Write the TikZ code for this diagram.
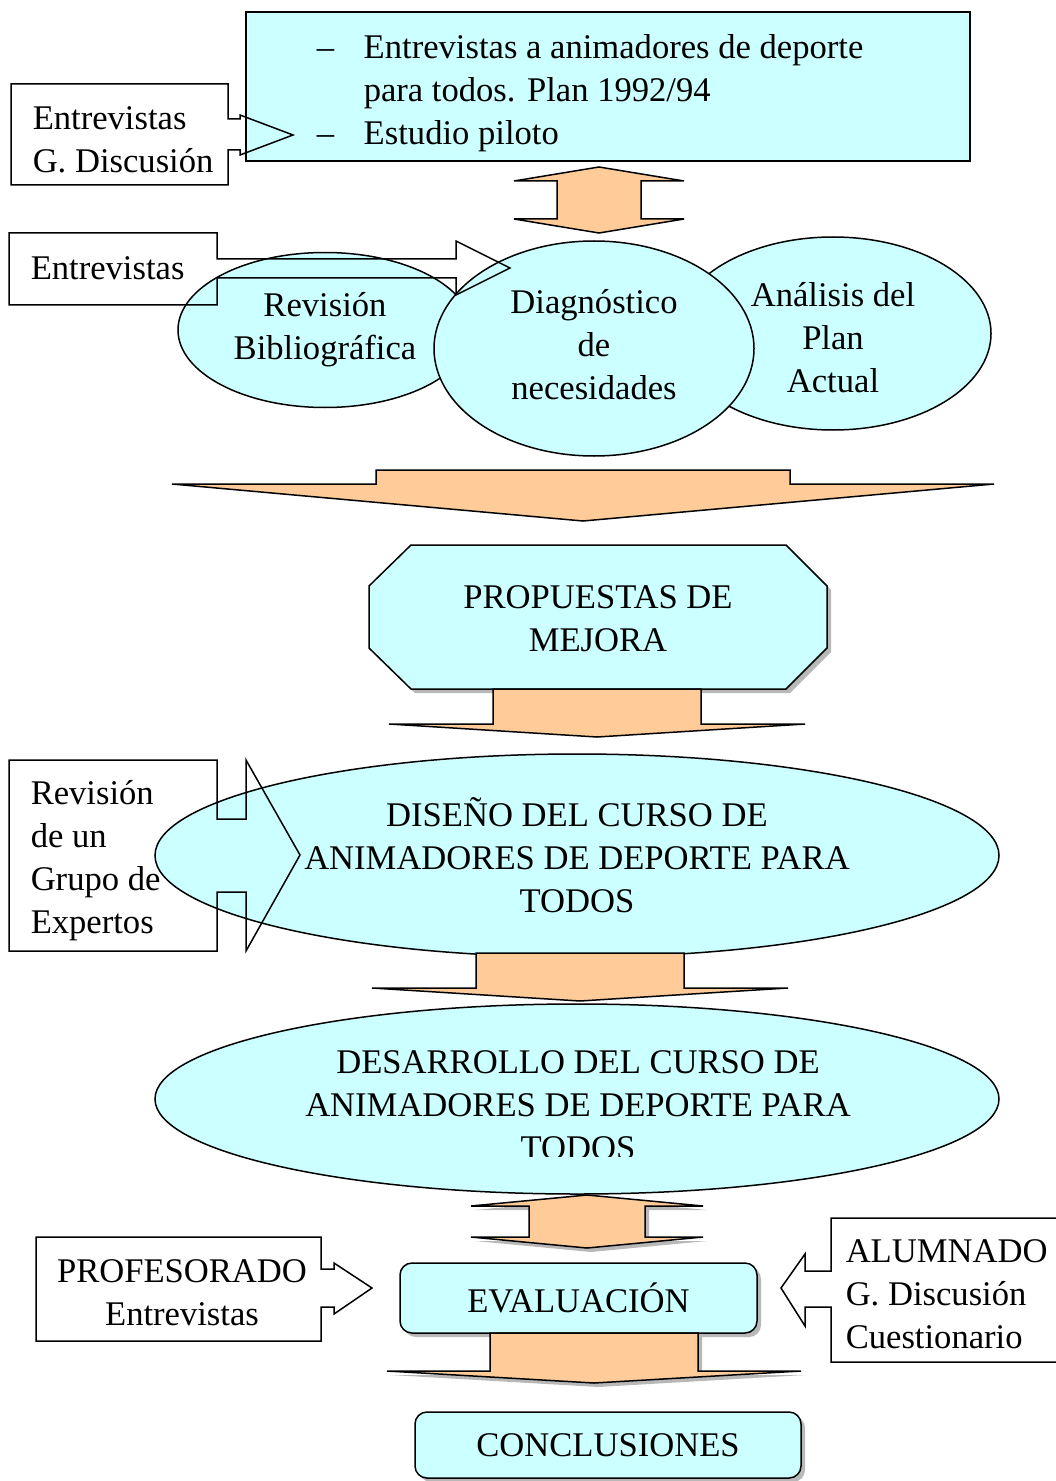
\documentclass[tikz,border=0pt]{standalone}
\usepackage{fontspec}
\setmainfont{Liberation Serif}
\usetikzlibrary{shapes.geometric, shadows}

\definecolor{celeste}{HTML}{CCFFFF}
\definecolor{melocoton}{HTML}{FFCC99}

% block arrow pointing down: [options] x centre, shaft top, head base, tip, half shaft, half head
\newcommand{\flechabaja}[7][]{%
  \draw[flecha, #1] (#2-#6,#3) -- (#2+#6,#3) -- (#2+#6,#4) -- (#2+#7,#4) -- (#2,#5)
    -- (#2-#7,#4) -- (#2-#6,#4) -- cycle;}
% block arrow up and down: [options] x centre, top tip, top base, bottom base, bottom tip, half shaft, half head
\newcommand{\flechadoble}[8][]{%
  \draw[flecha, #1] (#2,#3) -- (#2+#8,#4) -- (#2+#7,#4) -- (#2+#7,#5) -- (#2+#8,#5) -- (#2,#6)
    -- (#2-#8,#5) -- (#2-#7,#5) -- (#2-#7,#4) -- (#2-#8,#4) -- cycle;}

\begin{document}
\begin{tikzpicture}[x=0.5pt, y=-0.5pt, line width=0.75pt, line join=miter,
    texto/.style={font=\fontsize{17.3}{21.5}\selectfont, align=center, inner sep=0pt},
    caja/.style={draw, fill=celeste},
    elipse/.style={draw, fill=celeste, ellipse, inner sep=0pt},
    flecha/.style={draw, fill=melocoton},
    sombra/.style={drop shadow={shadow xshift=2pt, shadow yshift=-2pt, fill=gray!70, opacity=.8}}]
    \useasboundingbox (0,0) rectangle (1055,1481);

    % First sources
    \node[caja, minimum width=362pt, minimum height=74.5pt] (fuentes) at (608,86.5) {};
    \node[texto, anchor=west] (lista) at (316,92.5) {\begin{tabular}{@{}p{23.5pt}@{}l@{}}
        -- & Entrevistas a animadores de deporte\\
           & para todos. Plan 1992/94\\
        -- & Estudio piloto
      \end{tabular}};

    % Three ellipses of the diagnosis
    \node[elipse, texto, minimum width=147pt, minimum height=77.5pt] (revision) at (325,330) {Revisi\'on\\Bibliogr\'afica};
    \node[elipse, minimum width=158pt, minimum height=96.5pt] (analisis) at (833,333.5) {};
    \node[texto, yshift=-2pt] at (analisis) {An\'alisis del\\Plan\\Actual};
    \node[elipse, minimum width=160pt, minimum height=107.5pt] (diagnostico) at (594,348.5) {};
    \node[texto, yshift=2pt] at (diagnostico) {Diagn\'ostico\\de\\necesidades};

    % Callouts on the left
    \draw (228,119) -- (228,84) -- (11,84) -- (11,185) -- (228,185) -- (228,150) -- (240,150)
      -- (240,155) -- (293,135) -- (240,115) -- (240,119) -- cycle;
    \node[texto, anchor=west, align=left] (grupos) at (32,140) {Entrevistas\\G. Discusi\'on};
    \draw (217,259) -- (217,233) -- (9,233) -- (9,305) -- (217,305) -- (217,278) -- (456,278)
      -- (456,295) -- (510,268) -- (456,241) -- (456,259) -- cycle;
    \node[texto, anchor=west] (entrevistas) at (30,268) {Entrevistas};

    % Arrows between the boxes
    \flechadoble{599}{167}{181}{219}{233}{42}{85}
    \flechabaja{583}{470}{484}{521}{207}{411}

    % Proposals
    \draw[caja, sombra] (411,545) -- (786,545) -- (827,586) -- (827,648) -- (786,689)
      -- (411,689) -- (369,648) -- (369,586) -- cycle;
    \node[texto] (propuestas) at (598,618.5) {PROPUESTAS DE\\MEJORA};
    \flechabaja{597}{689}{724}{737}{104}{208}

    % Design of the course
    \node[elipse, texto, minimum width=422pt, minimum height=101.5pt] (diseno) at (577,855.5)
      {DISE\~NO DEL CURSO DE\\ANIMADORES DE DEPORTE PARA\\TODOS};
    \draw (217,819) -- (217,760) -- (9,760) -- (9,951) -- (217,951) -- (217,892) -- (246,892)
      -- (246,951) -- (300,855) -- (246,760) -- (246,819) -- cycle;
    \node[texto, anchor=west, align=left] (expertos) at (30,861) {Revisi\'on\\de un\\Grupo de\\Expertos};
    \flechabaja{580}{953}{988}{1001}{104}{208}

    % Development of the course
    \node[elipse, minimum width=422pt, minimum height=95pt] (desarrollo) at (577,1099) {};
    \begin{scope}
      \clip (150,1000) rectangle (1005,1156.5);
      \node[texto] (cursos) at (578,1105) {DESARROLLO DEL CURSO DE\\ANIMADORES DE DEPORTE PARA\\TODOS};
    \end{scope}
    \flechadoble[sombra]{587}{1195}{1206}{1237}{1248}{58}{116}

    % Evaluation
    \node[caja, sombra, texto, rounded corners=6pt, minimum width=178.5pt, minimum height=35pt] (evaluacion) at (578.5,1298) {EVALUACI\'ON};
    \draw (321,1269) -- (321,1237) -- (36,1237) -- (36,1341) -- (321,1341) -- (321,1307) -- (334,1307)
      -- (334,1314) -- (372,1288) -- (334,1263) -- (334,1269) -- cycle;
    \node[texto] (profesorado) at (182,1292.5) {PROFESORADO\\Entrevistas};
    \draw (831,1271) -- (831,1218) -- (1062,1218) -- (1062,1362) -- (831,1362) -- (831,1307) -- (805,1307)
      -- (805,1326) -- (781,1288) -- (805,1254) -- (805,1271) -- cycle;
    \node[texto, anchor=west, align=left] (alumnado) at (845,1294.5) {ALUMNADO\\G. Discusi\'on\\Cuestionario};
    \flechabaja[sombra]{594}{1333}{1371}{1383}{104}{207}

    % Conclusions
    \node[caja, sombra, texto, rounded corners=6pt, minimum width=193pt, minimum height=33pt] (conclusiones) at (608,1445) {CONCLUSIONES};
\end{tikzpicture}
\end{document}
